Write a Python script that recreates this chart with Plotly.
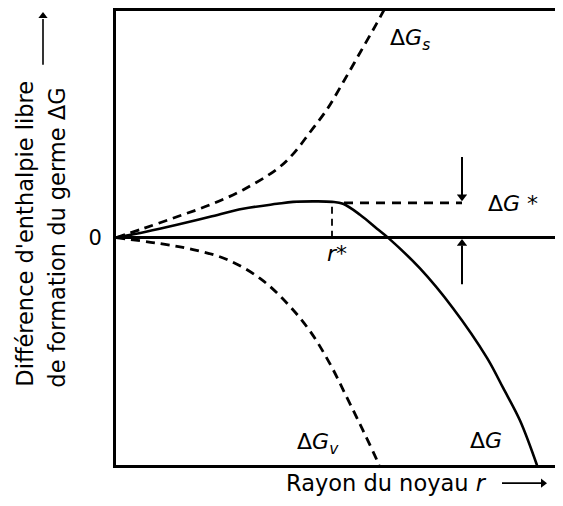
import plotly.graph_objects as go

# Curves (arbitrary units: r to the right, ΔG up)
r_s = [0, 27, 61, 94, 127, 161, 177, 194, 211, 227, 244, 261, 268]
dG_s = [0, 9, 21, 33, 48, 69, 84, 106, 129, 156, 186, 216, 229]

r_v = [0, 44, 77, 111, 144, 171, 194, 214, 231, 247, 261, 263]
dG_v = [0, -6, -12, -22, -41, -66, -94, -127, -161, -194, -224, -229]

r_tot = [0, 30, 61, 94, 127, 161, 177, 200, 216, 227, 244, 261, 272, 304, 337, 371, 387, 404, 421]
dG_tot = [0, 6, 13, 21, 29, 34, 36, 36.5, 36, 34, 23, 9, 0, -31, -71, -121, -151, -184, -229]

r_star = 216
dG_star = 35
r_arrow = 346
x_range = [0, 447]
y_range = [-229, 228]

FONT = "DejaVu Sans"
dash = "9px,6px"

# figure sits at an 8px page offset
W, H = 555, 498
OFF = 8
x_dom = [(116 - OFF) / W, 1.0]
y_dom = [(H - (465 - OFF)) / H, 1.0]

fig = go.Figure()
fig.add_trace(go.Scatter(x=r_s, y=dG_s, mode="lines", line=dict(color="black", width=2.8, dash=dash, shape="spline")))
fig.add_trace(go.Scatter(x=r_v, y=dG_v, mode="lines", line=dict(color="black", width=2.8, dash=dash, shape="spline")))
fig.add_trace(go.Scatter(x=r_tot, y=dG_tot, mode="lines", line=dict(color="black", width=2.6, shape="spline")))
# r* vertical dashed line and ΔG* horizontal dashed line
fig.add_trace(go.Scatter(x=[r_star, r_star], y=[0, dG_star], mode="lines", line=dict(color="black", width=1.8, dash="7px,5px")))
fig.add_trace(go.Scatter(x=[r_star + 12, r_arrow], y=[dG_star, dG_star], mode="lines", line=dict(color="black", width=2.6, dash="9px,7px")))
# ΔG* arrows
fig.add_trace(go.Scatter(x=[r_arrow, r_arrow], y=[dG_star + 46, dG_star + 8], mode="lines", line=dict(color="black", width=2)))
fig.add_trace(go.Scatter(x=[r_arrow], y=[dG_star + 6], mode="markers", marker=dict(symbol="triangle-down", size=9, color="black")))
fig.add_trace(go.Scatter(x=[r_arrow, r_arrow], y=[-47, -8], mode="lines", line=dict(color="black", width=2)))
fig.add_trace(go.Scatter(x=[r_arrow], y=[-6], mode="markers", marker=dict(symbol="triangle-up", size=9, color="black")))

# axis-title arrows on a full-page pixel overlay
fig.add_trace(go.Scatter(x=[43, 43], y=[62, 16], mode="lines", line=dict(color="black", width=1.6), xaxis="x2", yaxis="y2"))
fig.add_trace(go.Scatter(x=[43], y=[13], mode="markers", marker=dict(symbol="triangle-up", size=8, color="black"), xaxis="x2", yaxis="y2"))
fig.add_trace(go.Scatter(x=[502, 541], y=[483, 483], mode="lines", line=dict(color="black", width=1.6), xaxis="x2", yaxis="y2"))
fig.add_trace(go.Scatter(x=[543], y=[483], mode="markers", marker=dict(symbol="triangle-right", size=8, color="black"), xaxis="x2", yaxis="y2"))

ann = []
txt = dict(showarrow=False, font=dict(family=FONT, size=22, color="black"), xanchor="center", yanchor="middle")
ann.append(dict(x=294, y=199, text="Δ<i>G<sub>s</sub></i>", **txt))
ann.append(dict(x=397, y=34, text="Δ<i>G</i> *", **txt))
ann.append(dict(x=221, y=-16, text="<i>r</i>*", **txt))
ann.append(dict(x=202, y=-207, text="Δ<i>G<sub>v</sub></i>", **txt))
ann.append(dict(x=370, y=-204, text="Δ<i>G</i>", **txt))
ttl = dict(showarrow=False, font=dict(family=FONT, size=22.5, color="black"), xanchor="center", yanchor="middle",
           xref="x2", yref="y2")
ann.append(dict(x=25, y=232, text="Différence d'enthalpie libre", textangle=-90, **ttl))
ann.append(dict(x=57, y=236, text="de formation du germe ΔG", textangle=-90, **ttl))
ann.append(dict(x=386, y=483, text="Rayon du noyau <i>r</i>", **ttl))

fig.update_layout(
    width=W, height=H,
    margin=dict(l=0, r=0, t=0, b=0),
    paper_bgcolor="white", plot_bgcolor="rgba(0,0,0,0)",
    showlegend=False,
    annotations=ann,
    font=dict(family=FONT, size=22, color="black"),
    xaxis=dict(domain=x_dom, range=x_range, showgrid=False, zeroline=False, showline=True, linewidth=3,
               linecolor="black", mirror=True, showticklabels=False, ticks=""),
    yaxis=dict(domain=y_dom, range=y_range, showgrid=False, zeroline=True, zerolinewidth=2.6, zerolinecolor="black",
               showline=True, linewidth=3, linecolor="black", mirror=False,
               tickmode="array", tickvals=[0], ticktext=["0"], ticks="", ticklabelstandoff=7,
               tickfont=dict(family=FONT, size=21, color="black")),
    xaxis2=dict(domain=[0, 1], range=[OFF, OFF + W], visible=False, anchor="y2", fixedrange=True),
    yaxis2=dict(domain=[0, 1], range=[OFF + H, OFF], visible=False, anchor="x2", fixedrange=True),
)

fig.write_html("out.html")
